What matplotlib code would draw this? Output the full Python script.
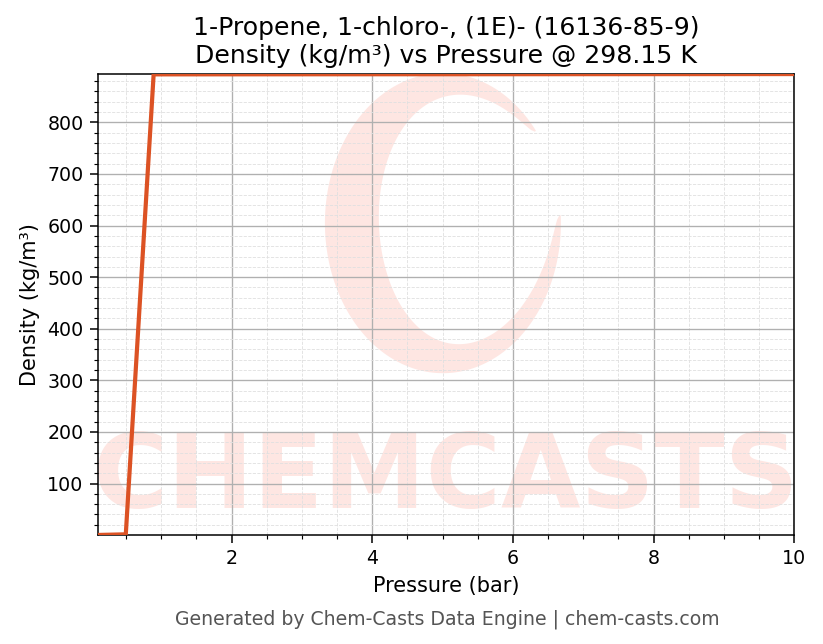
import numpy as np
import matplotlib
matplotlib.use("Agg")
import matplotlib.pyplot as plt
from matplotlib.ticker import MultipleLocator
from matplotlib.patches import Polygon

# pressure (bar) and density (kg/m3)
pressure = [0.1, 0.496, 0.892, 1.288, 2.08, 3.268, 4.456, 5.644, 6.832, 8.02, 9.208, 10.0]
density = [0.31, 1.55, 893.0, 893.05, 893.1, 893.2, 893.25, 893.3, 893.4, 893.45, 893.55, 893.6]

title = "1-Propene, 1-chloro-, (1E)- (16136-85-9)\nDensity (kg/m\u00b3) vs Pressure @ 298.15 K"
footer = "Generated by Chem-Casts Data Engine | chem-casts.com"

fig = plt.figure(figsize=(823 / 137, 644 / 137), dpi=137)
ax = fig.add_axes([0.119, 0.1693, 0.846, 0.7157])

wm_color = "#fee6e2"

# watermark: crescent logo, drawn in axes fraction coords
def px2ax(x, y):
    return ((x - 98) / 696.3, (534.7 - y) / 460.7)

th = np.radians(np.linspace(38, 363, 200))
t = np.linspace(0, 1, 200)
thick = 40 * np.sin(np.pi * t) ** 0.6 + 2
cx, cy, rx, ry = 443, 223, 118, 150
outer = [px2ax(cx + rx * np.cos(a), cy - ry * np.sin(a)) for a in th]
inner = [px2ax(cx + (rx - w) * np.cos(a) + 0.3 * w, cy - (ry - 0.8 * w) * np.sin(a))
         for a, w in zip(th[::-1], thick[::-1])]
ax.add_patch(Polygon(outer + inner, closed=True, transform=ax.transAxes,
                     facecolor=wm_color, edgecolor="none", zorder=0))
ax.text(0.5, 0.12, "CHEMCASTS", transform=ax.transAxes, ha="center", va="center",
        fontsize=54, fontweight="bold", color=wm_color, zorder=0, clip_on=True)

ax.plot(pressure, density, color="#dc5224", linewidth=2.2, zorder=3)

ax.set_xlim(min(pressure), max(pressure))
ax.set_ylim(min(density), max(density))
ax.xaxis.set_major_locator(MultipleLocator(2))
ax.xaxis.set_minor_locator(MultipleLocator(0.5))
ax.yaxis.set_major_locator(MultipleLocator(100))
ax.yaxis.set_minor_locator(MultipleLocator(20))

ax.grid(which="major", color="#b0b0b0", linewidth=0.7, zorder=1)
ax.grid(which="minor", color="#e0e0e0", linestyle="--", linewidth=0.45, zorder=1)

ax.tick_params(which="major", labelsize=10, length=4)
ax.tick_params(which="minor", length=2)

ax.set_xlabel("Pressure (bar)", fontsize=11)
ax.set_ylabel("Density (kg/m\u00b3)", fontsize=11)
ax.set_title(title, fontsize=13.2)

fig.text(0.543, 0.038, footer, ha="center", va="center", fontsize=9.9, color="#555555")

fig.savefig("out.png", dpi=137)
